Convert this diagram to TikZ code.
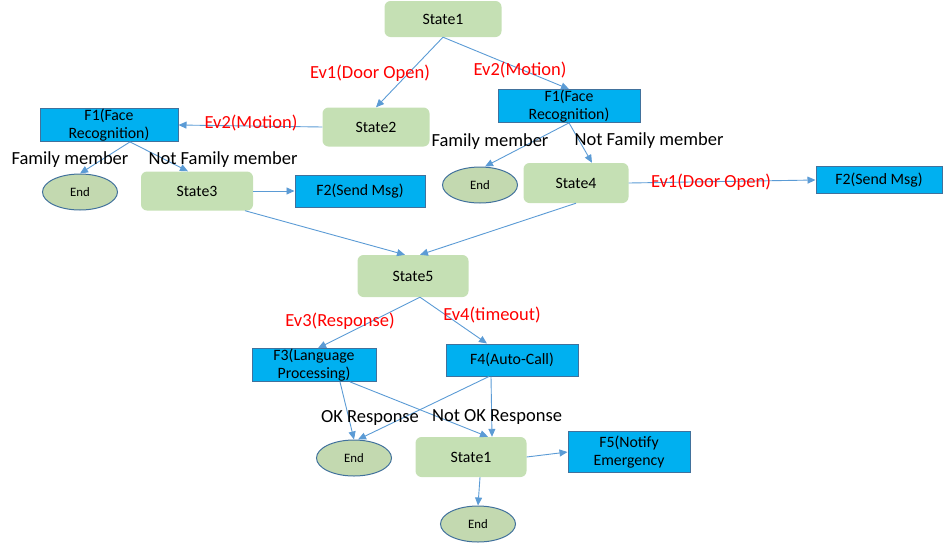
\documentclass[tikz,border=0pt]{standalone}
\usepackage{fontspec}
\setmainfont{Carlito}
\usepackage{tikz}
\usetikzlibrary{arrows.meta}
\definecolor{stategreen}{HTML}{C5E0B4}
\definecolor{endgreen}{HTML}{C3D9B0}
\definecolor{funcblue}{HTML}{00B0F0}
\definecolor{edgeblue}{HTML}{41719C}
\definecolor{arrowblue}{HTML}{5B9BD5}
\tikzset{
	statebox/.style={fill=stategreen, rounded corners=6pt, inner sep=0pt, font=\fontsize{15.8}{19}\selectfont},
	funcbox/.style={fill=funcblue, draw=edgeblue, line width=1pt, inner sep=0pt, align=center, font=\fontsize{15.8}{18.5}\selectfont},
	endnode/.style={ellipse, fill=endgreen, draw=edgeblue, line width=1pt, minimum width=75pt, minimum height=36pt, inner sep=0pt, font=\fontsize{12.8}{15}\selectfont},
	evlabel/.style={text=red, inner sep=0pt, font=\fontsize{18.5}{20}\selectfont},
	condlabel/.style={text=black, inner sep=0pt, font=\fontsize{18.5}{20}\selectfont},
	flow/.style={draw=arrowblue, line width=0.9pt, -{Triangle[length=8pt,width=7pt]}}
}
\usetikzlibrary{shapes.geometric}
\begin{document}
\begin{tikzpicture}[x=1pt, y=-1pt]
			%%%%% START %%%%%
			\useasboundingbox (0, 0) rectangle (944, 544);
			
			% states
			\node[statebox, minimum width=117pt, minimum height=36pt] (s1) at (443, 19) {State1};
			\node[statebox, minimum width=107pt, minimum height=39pt] (s2) at (376, 127) {State2};
			\node[statebox, minimum width=112pt, minimum height=39pt] (s3) at (197, 191) {State3};
			\node[statebox, minimum width=105pt, minimum height=40pt] (s4) at (576, 183) {State4};
			\node[statebox, minimum width=111pt, minimum height=42pt] (s5) at (413, 276) {State5};
			\node[statebox, minimum width=111pt, minimum height=40pt] (s1b) at (471, 457) {State1};
			
			% functions
			\node[funcbox, minimum width=138pt, minimum height=31pt] (f1a) at (109, 125) {F1(Face\\Recognition)};
			\node[funcbox, minimum width=142pt, minimum height=31pt] (f1b) at (569, 106) {F1(Face\\Recognition)};
			\node[funcbox, minimum width=130pt, minimum height=32pt] (f2a) at (360, 191) {F2(Send Msg)};
			\node[funcbox, minimum width=126pt, minimum height=27pt] (f2b) at (879, 180) {F2(Send Msg)};
			\node[funcbox, minimum width=124pt, minimum height=30pt] (f3) at (314, 365) {F3(Language\\Processing)};
			\node[funcbox, minimum width=132pt, minimum height=32pt] (f4) at (512, 360) {F4(Auto-Call)};
			\node[funcbox, minimum width=122pt, minimum height=41pt] (f5) at (629, 452) {F5(Notify\\Emergency};
			
			% ends
			\node[endnode] (e1) at (80, 192) {End};
			\node[endnode] (e2) at (480, 185) {End};
			\node[endnode] (e3) at (354, 458) {End};
			\node[endnode] (e4) at (478, 524) {End};
			
			% connectors
			\draw[flow] (s1.south) -- (s2.north);
			\draw[flow] (s1.south) -- (f1b.north);
			\draw[flow] (s2.west) -- (f1a.east);
			\draw[flow] ([xshift=21pt]f1a.south) -- (e1.north);
			\draw[flow] ([xshift=21pt]f1a.south) -- ([xshift=-9pt]s3.north);
			\draw[flow] (s3.east) -- (f2a.west);
			\draw[flow] (f1b.south) -- ([xshift=5pt]e2.north);
			\draw[flow] (f1b.south) -- ([xshift=16pt]s4.north);
			\draw[flow] (s4.east) -- (f2b.west);
			\draw[flow] ([xshift=48pt]s3.south) -- ([xshift=-8pt]s5.north);
			\draw[flow] (s4.south) -- ([xshift=7pt]s5.north);
			\draw[flow] ([xshift=7pt]s5.south) -- ([xshift=4pt]f3.north);
			\draw[flow] ([xshift=7pt]s5.south) -- ([xshift=-25pt]f4.north);
			\draw[flow] ([xshift=26pt]f3.south) -- (e3.north);
			\draw[flow] ([xshift=36pt]f3.south) -- ([xshift=17pt]s1b.north);
			\draw[flow] ([xshift=-23pt]f4.south) -- ([xshift=4pt]e3.north);
			\draw[flow] ([xshift=-21pt]f4.south) -- ([xshift=21pt]s1b.north);
			\draw[flow] (s1b.east) -- (f5.west);
			\draw[flow] ([xshift=9pt]s1b.south) -- (e4.north);
			
			% labels
			\node[evlabel] (ev1a) at (370, 73) {Ev1(Door Open)};
			\node[evlabel] (ev2a) at (520, 70) {Ev2(Motion)};
			\node[evlabel] (ev2b) at (251, 123) {Ev2(Motion)};
			\node[evlabel] (ev1b) at (711, 182) {Ev1(Door Open)};
			\node[evlabel] (ev3) at (340, 321) {Ev3(Response)};
			\node[evlabel] (ev4) at (492, 315) {Ev4(timeout)};
			\node[condlabel] (fam1) at (70, 160) {Family member};
			\node[condlabel] (nfam1) at (223, 160) {Not Family member};
			\node[condlabel] (fam2) at (490, 142) {Family member};
			\node[condlabel] (nfam2) at (649, 141) {Not Family member};
			\node[condlabel] (okr) at (370, 418) {OK Response};
			\node[condlabel] (nokr) at (497, 417) {Not OK Response};
			
			%%%%% END %%%%%
\end{tikzpicture}
\end{document}
